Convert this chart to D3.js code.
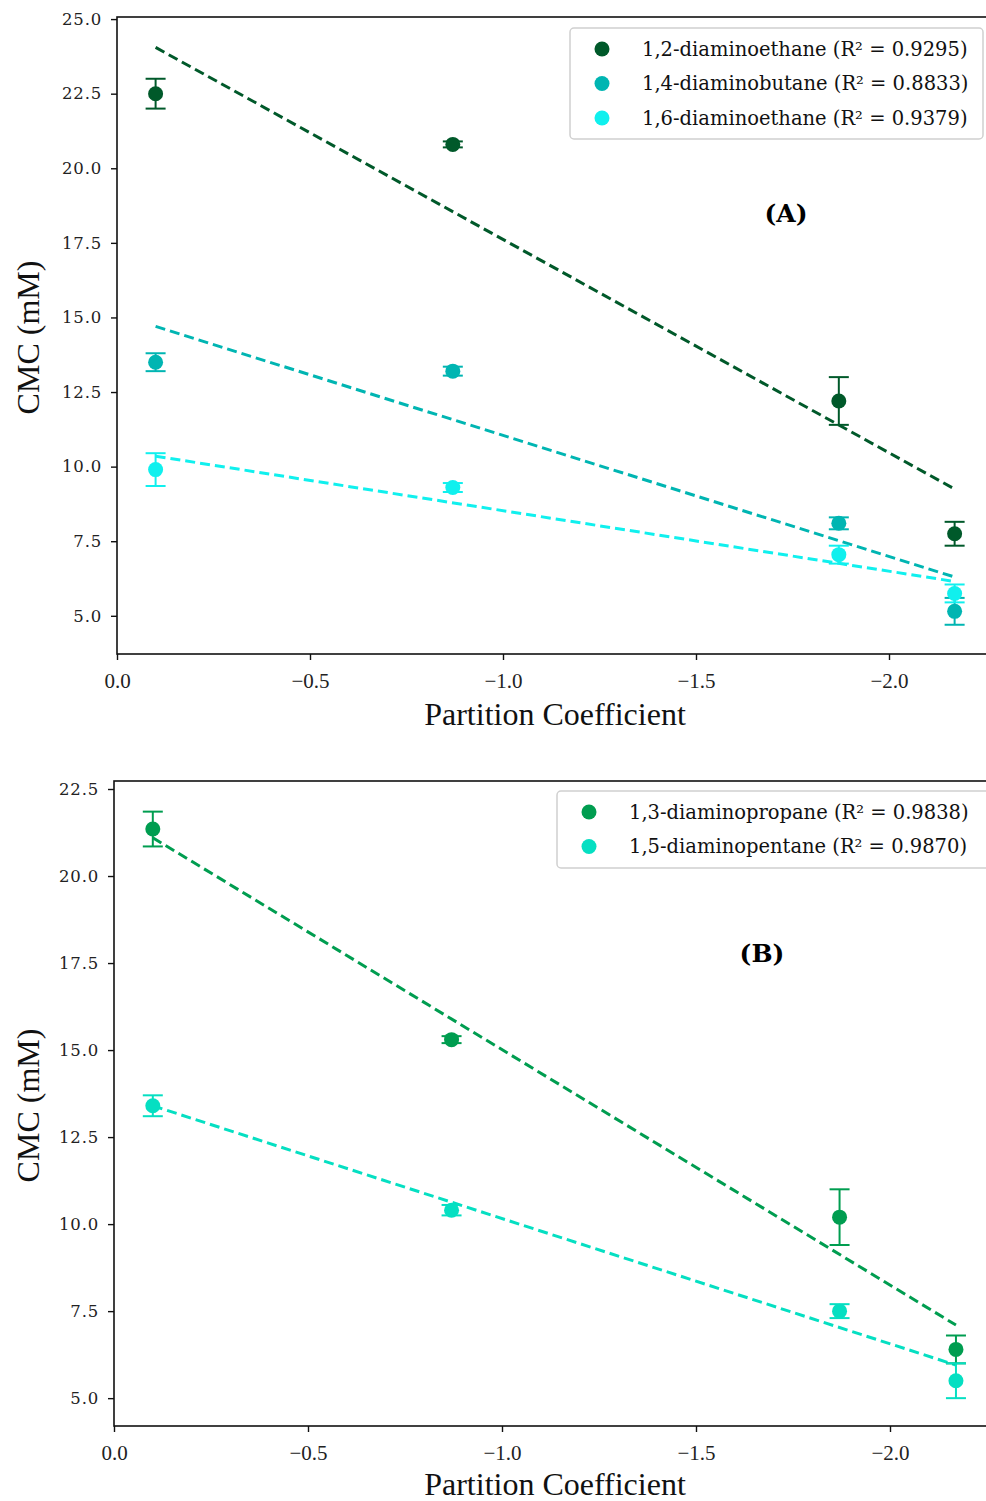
<!DOCTYPE html>
<html>
<head>
<meta charset="utf-8">
<script src="https://cdn.jsdelivr.net/npm/d3@7"></script>
<style>
  body { margin: 0; background: #fff; }
  svg { display: block; }
  .y-axis .tick text { font-family: "DejaVu Serif", serif; font-size: 16.5px; letter-spacing: 0.8px; fill: #222; }
  .x-axis .tick text { font-family: "Liberation Serif", serif; font-size: 21px; fill: #222; }
  .axis-label { font-family: "Liberation Serif", serif; font-size: 32px; fill: #111; }
  .legend-text { font-family: "DejaVu Serif", serif; font-size: 19.5px; fill: #111; }
  .panel-label { font-family: "DejaVu Serif", serif; font-size: 25px; font-weight: bold; fill: #000; }
</style>
</head>
<body>
<script>
// partition coefficients (x) shared by all series
const xVals = [-0.1, -0.87, -1.87, -2.17]
const fitX = [-0.1, -2.17]

// panel A
const namesA = ['1,2-diaminoethane (R² = 0.9295)', '1,4-diaminobutane (R² = 0.8833)', '1,6-diaminoethane (R² = 0.9379)']
const colorsA = ['#00592a', '#00b5b2', '#10f0ee']
const cmcA = [
  [22.5, 20.8, 12.2, 7.75],
  [13.5, 13.2, 8.1, 5.15],
  [9.9, 9.3, 7.05, 5.75]
]
const errA = [
  [0.5, 0.1, 0.8, 0.4],
  [0.3, 0.15, 0.2, 0.45],
  [0.55, 0.15, 0.3, 0.3]
]
const fitA = [
  [24.05, 9.25],
  [14.7, 6.3],
  [10.35, 6.15]
]
const yTicksA = [5.0, 7.5, 10.0, 12.5, 15.0, 17.5, 20.0, 22.5, 25.0]

// panel B
const namesB = ['1,3-diaminopropane (R² = 0.9838)', '1,5-diaminopentane (R² = 0.9870)']
const colorsB = ['#009d50', '#05dfc2']
const cmcB = [
  [21.35, 15.3, 10.2, 6.4],
  [13.4, 10.4, 7.5, 5.5]
]
const errB = [
  [0.5, 0.1, 0.8, 0.4],
  [0.3, 0.15, 0.2, 0.5]
]
const fitB = [
  [21.1, 7.1],
  [13.4, 5.95]
]
const yTicksB = [5.0, 7.5, 10.0, 12.5, 15.0, 17.5, 20.0, 22.5]

const xTicks = [0, -0.5, -1.0, -1.5, -2.0]

const svg = d3.select('body').append('svg')
  .attr('width', 986)
  .attr('height', 1501)

function drawPanel(opt) {
  const x = d3.scaleLinear().domain([0, -2.4]).range([opt.left, opt.left + 2.4 * opt.pxPerUnit])
  const y = d3.scaleLinear().domain(opt.yDomain).range([opt.bottom, opt.top])
  const g = svg.append('g')

  // frame
  g.append('rect')
    .attr('x', opt.left).attr('y', opt.top)
    .attr('width', x.range()[1] - opt.left)
    .attr('height', opt.bottom - opt.top)
    .attr('fill', 'none').attr('stroke', '#111').attr('stroke-width', 1.6)

  const xAxis = g.append('g')
    .attr('class', 'x-axis')
    .attr('transform', `translate(0,${opt.bottom})`)
    .call(d3.axisBottom(x).tickValues(xTicks).tickFormat(d3.format('.1f')).tickSize(6).tickPadding(13))
  const yAxis = g.append('g')
    .attr('class', 'y-axis')
    .attr('transform', `translate(${opt.left},0)`)
    .call(d3.axisLeft(y).tickValues(opt.yTicks).tickFormat(d3.format('.1f')).tickSize(6).tickPadding(9))
  ;[xAxis, yAxis].forEach(a => {
    a.select('.domain').remove()
    a.selectAll('.tick line').attr('stroke', '#111').attr('stroke-width', 1.4)
  })

  g.append('text')
    .attr('class', 'axis-label')
    .attr('x', 555).attr('y', opt.bottom + opt.xLabelDy)
    .attr('text-anchor', 'middle')
    .text('Partition Coefficient')

  g.append('text')
    .attr('class', 'axis-label')
    .attr('transform', `translate(39,${(opt.top + opt.bottom) / 2 + 2}) rotate(-90)`)
    .attr('text-anchor', 'middle')
    .text('CMC (mM)')

  // fit lines
  opt.fits.forEach((f, i) => {
    g.append('line')
      .attr('x1', x(fitX[0])).attr('y1', y(f[0]))
      .attr('x2', x(fitX[1])).attr('y2', y(f[1]))
      .attr('stroke', opt.colors[i]).attr('stroke-width', 3)
      .attr('stroke-dasharray', '10,5')
  })

  // error bars + points
  opt.cmc.forEach((series, i) => {
    const c = opt.colors[i]
    const pts = series.map((v, j) => ({ x: xVals[j], v: v, e: opt.err[i][j] }))
    const eb = g.append('g')
    pts.forEach(p => {
      const cx = x(p.x)
      eb.append('line').attr('x1', cx).attr('x2', cx)
        .attr('y1', y(p.v - p.e)).attr('y2', y(p.v + p.e))
        .attr('stroke', c).attr('stroke-width', 2)
      ;[p.v - p.e, p.v + p.e].forEach(cap => {
        eb.append('line').attr('x1', cx - 10).attr('x2', cx + 10)
          .attr('y1', y(cap)).attr('y2', y(cap))
          .attr('stroke', c).attr('stroke-width', 2)
      })
    })
    g.selectAll(null).data(pts).enter().append('circle')
      .attr('cx', d => x(d.x)).attr('cy', d => y(d.v))
      .attr('r', 7.5).attr('fill', c)
  })

  // legend
  const lg = g.append('g')
  const lb = opt.legend
  lg.append('rect')
    .attr('x', lb.x).attr('y', lb.y)
    .attr('width', lb.w).attr('height', lb.h)
    .attr('rx', 4)
    .attr('fill', '#fff').attr('stroke', '#d0d0d0').attr('stroke-width', 1.5)
  opt.names.forEach((n, i) => {
    const yy = lb.y + 21 + i * 34.5
    lg.append('circle').attr('cx', lb.x + 32).attr('cy', yy).attr('r', 7.5).attr('fill', opt.colors[i])
    lg.append('text').attr('class', 'legend-text')
      .attr('x', lb.x + 72).attr('y', yy).attr('dy', '0.35em')
      .text(n)
  })

  g.append('text').attr('class', 'panel-label')
    .attr('x', opt.tag.x).attr('y', opt.tag.y)
    .attr('text-anchor', 'middle').attr('dy', '0.35em')
    .text(opt.tag.text)
}

drawPanel({
  left: 117, top: 17, bottom: 654, pxPerUnit: 386, xLabelDy: 71,
  yDomain: [3.72, 25.07], yTicks: yTicksA,
  cmc: cmcA, err: errA, fits: fitA, colors: colorsA, names: namesA,
  legend: { x: 570, y: 28, w: 413, h: 111 },
  tag: { x: 786, y: 213, text: '(A)' }
})

drawPanel({
  left: 114, top: 781, bottom: 1426, pxPerUnit: 388, xLabelDy: 69,
  yDomain: [4.2, 22.73], yTicks: yTicksB,
  cmc: cmcB, err: errB, fits: fitB, colors: colorsB, names: namesB,
  legend: { x: 557, y: 791, w: 440, h: 77 },
  tag: { x: 762, y: 953, text: '(B)' }
})
</script>
</body>
</html>
